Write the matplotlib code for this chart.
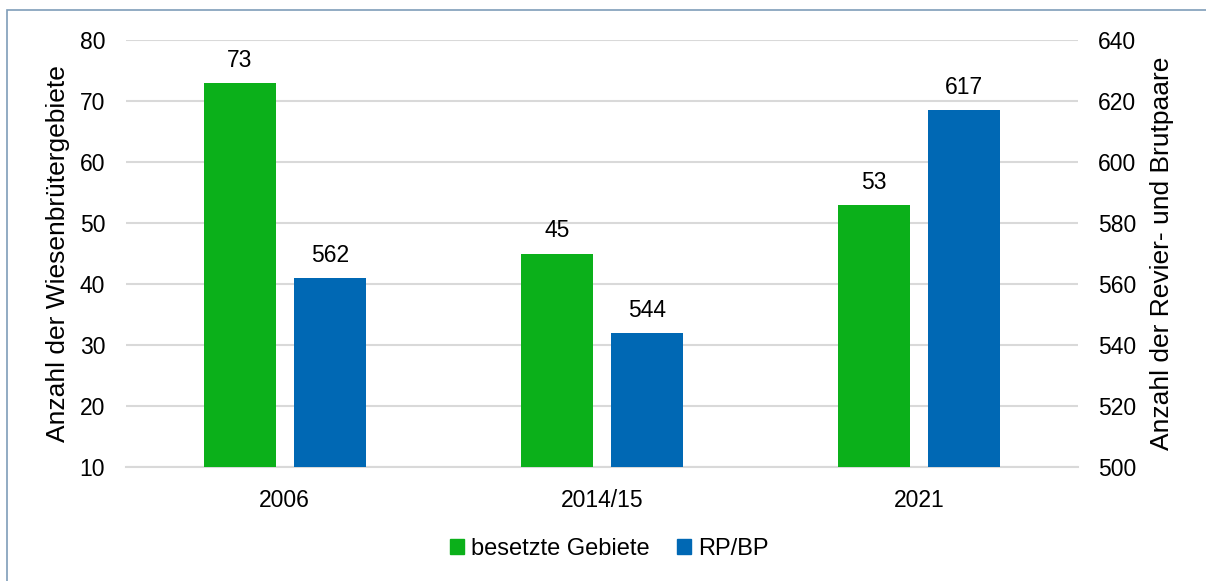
"""Wiesenbrüter: besetzte Gebiete und Revier-/Brutpaare im Vergleich"""

import matplotlib.pyplot as plt
import numpy as np
from matplotlib.patches import Patch, Rectangle

plt.rcParams["font.family"] = ["Liberation Sans", "DejaVu Sans"]

# Daten
jahre = ["2006", "2014/15", "2021"]
gebiete = [73, 45, 53]
brutpaare = [562, 544, 617]

GRUEN = "#0bb01a"
BLAU = "#0068b4"
GRID = "#d9d9d9"
FS = 16.5
FS_LABEL = 19

fig = plt.figure(figsize=(12.06, 5.81), dpi=100)
ax = fig.add_axes([126 / 1206, 1 - 467 / 581, (1078 - 126) / 1206, (467 - 40) / 581])
ax2 = ax.twinx()

x = np.arange(len(jahre))
breite = 0.227
versatz = 0.142

ax.bar(x - versatz, np.array(gebiete) - 10, breite, bottom=10, color=GRUEN, zorder=3)
ax2.bar(x + versatz, np.array(brutpaare) - 500, breite, bottom=500, color=BLAU, zorder=3)

for xi, v in zip(x, gebiete):
    ax.annotate(str(v), (xi - versatz, v), xytext=(0, 8), textcoords="offset points",
                ha="center", va="bottom", fontsize=FS)
for xi, v in zip(x, brutpaare):
    ax2.annotate(str(v), (xi + versatz, v), xytext=(0, 8), textcoords="offset points",
                 ha="center", va="bottom", fontsize=FS)

ax.set_xlim(-0.5, 2.5)
ax.set_ylim(10, 80)
ax2.set_ylim(500, 640)
ax.set_yticks(range(10, 81, 10))
ax2.set_yticks(range(500, 641, 20))
ax.set_xticks(x)
ax.set_xticklabels(jahre)

ax.grid(axis="y", color=GRID, linewidth=1.5, zorder=0)
for a in (ax, ax2):
    for s in a.spines.values():
        s.set_visible(False)
    a.tick_params(length=0, labelsize=FS, colors="black")
ax.spines["bottom"].set_visible(True)
ax.spines["bottom"].set_color(GRID)
ax.spines["bottom"].set_linewidth(1.5)
ax.tick_params(axis="x", pad=16)
ax.tick_params(axis="y", pad=15)
ax2.tick_params(axis="y", pad=14.5)

ax.set_ylabel("Anzahl der Wiesenbrütergebiete", fontsize=FS_LABEL, labelpad=7)
ax2.set_ylabel("Anzahl der Revier- und Brutpaare", fontsize=FS_LABEL, labelpad=10)

handles = [Patch(color=GRUEN, label="besetzte Gebiete"), Patch(color=BLAU, label="RP/BP")]
fig.legend(handles=handles, loc="center", bbox_to_anchor=(0.505, 1 - 549 / 581), ncol=2,
           frameon=False, fontsize=17, handlelength=0.6, handleheight=0.6,
           handletextpad=0.3, columnspacing=1.15)

# Rahmen um die Grafik
fig.patches.append(Rectangle((7 / 1206, -0.01), 1.1, 1 - 10 / 581 + 0.01,
                             transform=fig.transFigure, fill=False,
                             edgecolor="#7f9db9", linewidth=1.2))

fig.savefig("out.png", dpi=100)
